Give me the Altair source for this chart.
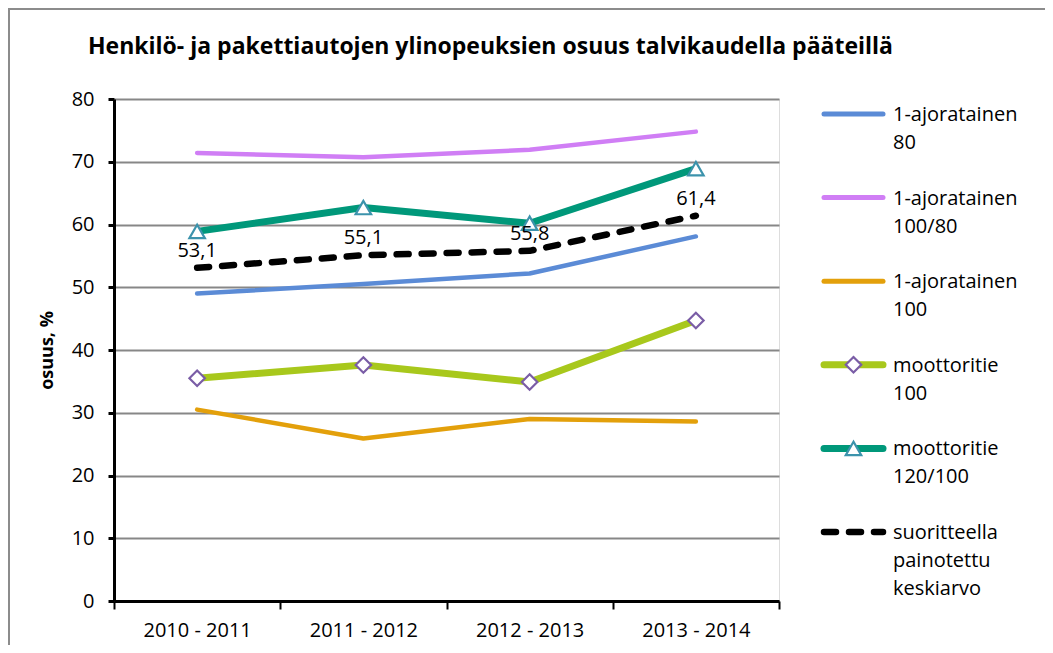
import altair as alt
import pandas as pd

title_text = "Henkilö- ja pakettiautojen ylinopeuksien osuus talvikaudella pääteillä"
periods = ["2010 - 2011", "2011 - 2012", "2012 - 2013", "2013 - 2014"]
series = [
    "1-ajoratainen 80",
    "1-ajoratainen 100/80",
    "1-ajoratainen 100",
    "moottoritie 100",
    "moottoritie 120/100",
    "suoritteella painotettu keskiarvo",
]
legend_labels = [
    "1-ajoratainen\n80",
    "1-ajoratainen\n100/80",
    "1-ajoratainen\n100",
    "moottoritie\n100",
    "moottoritie\n120/100",
    "suoritteella\npainotettu\nkeskiarvo",
]

v_1ajo_80 = [49.0, 50.5, 52.2, 58.1]
v_1ajo_100_80 = [71.4, 70.7, 71.9, 74.8]
v_1ajo_100 = [30.5, 25.9, 29.0, 28.6]
v_moot_100 = [35.5, 37.6, 34.9, 44.7]
v_moot_120_100 = [58.9, 62.7, 60.2, 68.9]
v_keskiarvo = [53.1, 55.1, 55.8, 61.4]

y_ticks = [0, 10, 20, 30, 40, 50, 60, 70, 80]

all_values = [v_1ajo_80, v_1ajo_100_80, v_1ajo_100, v_moot_100, v_moot_120_100, v_keskiarvo]
rows = []
for s, vals in zip(series, all_values):
    for p, v in zip(periods, vals):
        rows.append({"period": p, "series": s, "value": v})
df = pd.DataFrame(rows)
leg = pd.DataFrame({"series": series, "label": legend_labels})

FONT = "Open Sans"
colors = ["#5B8BD6", "#D07EF5", "#E3A00B", "#A8C81C", "#00987A", "#000000"]
color_scale = alt.Scale(domain=series, range=colors)
marker_series = [series[3], series[4]]
shape_scale = alt.Scale(domain=marker_series, range=["diamond", "triangle-up"])
stroke_scale = alt.Scale(domain=marker_series, range=["#7A5DA6", "#3C93AC"])

x_enc = alt.X(
    "period:N",
    sort=periods,
    bandPosition=0.5,
    scale=alt.Scale(type="band", domain=periods, paddingInner=0, paddingOuter=0),
    axis=alt.Axis(
        title=None, tickBand="extent", labelAngle=0, domainColor="black", domainWidth=3,
        tickColor="black", tickWidth=2, tickSize=8, labelFontSize=20, labelColor="black",
        labelFont=FONT, labelPadding=11, grid=False,
    ),
)
y_enc = alt.Y(
    "value:Q",
    scale=alt.Scale(domain=[0, 80], nice=False),
    axis=alt.Axis(
        values=y_ticks, title="osuus, %", grid=True, gridColor="#878787", gridWidth=2,
        domainColor="black", domainWidth=3, tickColor="black", tickWidth=3, tickSize=6,
        labelFontSize=20, labelColor="black", labelFont=FONT, labelPadding=14,
        titleFontSize=18, titleFontWeight="bold", titleFont=FONT, titleColor="black",
        titleAngle=-90, titleX=-67, titleY=251, titleAlign="center", titleBaseline="middle",
    ),
)
color_enc = alt.Color("series:N", scale=color_scale, legend=None)

base = alt.Chart(df)
thin = base.transform_filter(alt.FieldOneOfPredicate(field="series", oneOf=series[:3])).mark_line(
    strokeWidth=4.5, strokeCap="round", strokeJoin="round"
).encode(x=x_enc, y=y_enc, color=color_enc, detail="series:N")
thick = base.transform_filter(alt.FieldOneOfPredicate(field="series", oneOf=marker_series)).mark_line(
    strokeWidth=7, strokeCap="round", strokeJoin="round"
).encode(x=x_enc, y=y_enc, color=color_enc, detail="series:N")
avg = base.transform_filter(alt.FieldEqualPredicate(field="series", equal=series[5])).mark_line(
    strokeWidth=6.5, strokeDash=[12, 13], strokeCap="round", strokeJoin="round"
).encode(x=x_enc, y=y_enc, color=color_enc)
markers = base.transform_filter(alt.FieldOneOfPredicate(field="series", oneOf=marker_series)).mark_point(
    filled=False, fill="white", fillOpacity=1, strokeWidth=2.2, size=240, opacity=1
).encode(
    x=x_enc, y=y_enc,
    shape=alt.Shape("series:N", scale=shape_scale, legend=None),
    stroke=alt.Stroke("series:N", scale=stroke_scale, legend=None),
)
labels = base.transform_filter(alt.FieldEqualPredicate(field="series", equal=series[5])).transform_calculate(
    lab="replace(format(datum.value, '.1f'), '.', ',')"
).mark_text(fontSize=20, font=FONT, color="black", dy=-17, baseline="middle").encode(
    x=x_enc, y=y_enc, text="lab:N"
)

main = alt.layer(thin, thick, avg, markers, labels)

# legend (own point scale on y)
leg_y = alt.Y(
    "series:N", sort=series,
    scale=alt.Scale(type="point", domain=series, range=[15, 433], padding=0),
    axis=None,
)
lbase = alt.Chart(leg)
l_thin = lbase.transform_filter(alt.FieldOneOfPredicate(field="series", oneOf=series[:3])).mark_rule(
    strokeWidth=5, strokeCap="round"
).encode(x=alt.value(710), x2=alt.value(769), y=leg_y, color=color_enc)
l_thick = lbase.transform_filter(alt.FieldOneOfPredicate(field="series", oneOf=marker_series)).mark_rule(
    strokeWidth=7, strokeCap="round"
).encode(x=alt.value(710), x2=alt.value(769), y=leg_y, color=color_enc)
l_avg = lbase.transform_filter(alt.FieldEqualPredicate(field="series", equal=series[5])).mark_rule(
    strokeWidth=6.5, strokeCap="round", strokeDash=[12, 13]
).encode(x=alt.value(710), x2=alt.value(769), y=leg_y, color=color_enc)
l_mark = lbase.transform_filter(alt.FieldOneOfPredicate(field="series", oneOf=marker_series)).mark_point(
    filled=False, fill="white", fillOpacity=1, strokeWidth=2.2, size=240, opacity=1
).encode(
    x=alt.value(739.5), y=leg_y,
    shape=alt.Shape("series:N", scale=shape_scale, legend=None),
    stroke=alt.Stroke("series:N", scale=stroke_scale, legend=None),
)
l_text = lbase.mark_text(
    align="left", baseline="alphabetic", dy=7, fontSize=20, font=FONT, color="black",
    lineBreak="\n", lineHeight=28,
).encode(x=alt.value(779), y=leg_y, text="label:N")

legend = alt.layer(l_thin, l_thick, l_avg, l_mark, l_text)

deco = alt.Chart(pd.DataFrame({"t": [title_text]}))
frame = deco.mark_rect(
    filled=False, stroke="#8C8C8C", strokeWidth=2
).encode(x=alt.value(-105), x2=alt.value(1100), y=alt.value(-90), y2=alt.value(800))
title = deco.mark_text(
    align="left", baseline="middle", fontSize=23, fontWeight="bold", font=FONT, color="black"
).encode(x=alt.value(-26), y=alt.value(-52), text="t:N")

chart = alt.layer(
    alt.layer(frame, title), main, legend
).resolve_scale(y="independent").properties(
    width=665,
    height=502,
    autosize=alt.AutoSizeParams(type="none"),
    padding={"left": 106, "top": 91, "right": 266, "bottom": 44},
).configure_view(stroke=None).configure(font=FONT)

chart.save("out.html", embed_options={"renderer": "svg", "actions": False})
